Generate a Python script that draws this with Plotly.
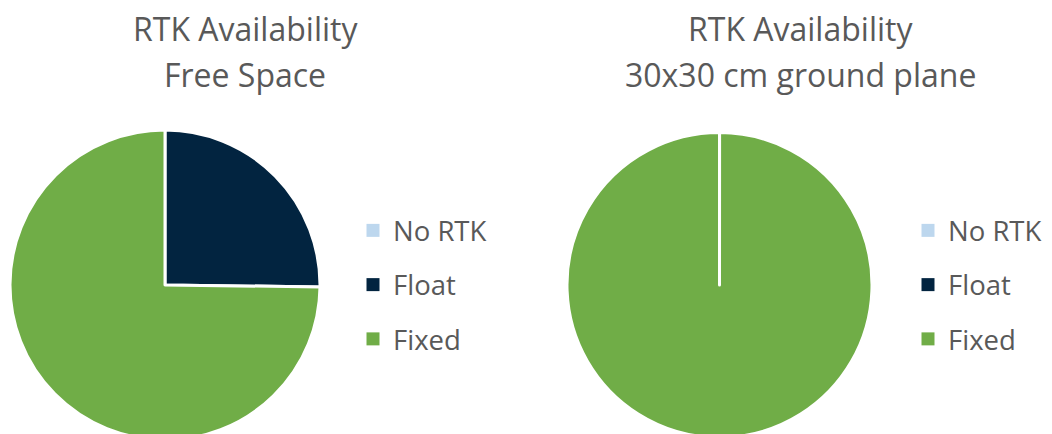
import plotly.graph_objects as go

# Slice categories and colours (shared by both pies)
labels = ["No RTK", "Float", "Fixed"]
colors = ["#BDD7EE", "#022440", "#70AD47"]

# Share of time in each RTK state (%)
free_space = [0.0, 25.2, 74.8]
ground_plane = [0.0, 0.01, 99.99]

title_left = ["RTK Availability", "Free Space"]
title_right = ["RTK Availability", "30x30 cm ground plane"]

W, H = 1052, 446
FONT = "Open Sans"
TEXT = "#595959"


def px_x(x):
    return x / W


def px_y(y):
    return 1 - y / H


fig = go.Figure()

pie_common = dict(
    labels=labels,
    marker=dict(colors=colors, line=dict(color="white", width=3)),
    sort=False,
    direction="clockwise",
    rotation=0,
    textinfo="none",
    hoverinfo="label+percent",
    showlegend=False,
)

fig.add_trace(go.Pie(
    values=free_space,
    domain=dict(x=[px_x(10), px_x(320)], y=[px_y(440), px_y(130)]),
    **pie_common,
))
fig.add_trace(go.Pie(
    values=ground_plane,
    domain=dict(x=[px_x(567), px_x(872)], y=[px_y(437.5), px_y(132.5)]),
    **pie_common,
))

# Legend entries, one group per category so the rows can be spaced out
for legend_name in ["legend", "legend2"]:
    for lab, col in zip(labels, colors):
        fig.add_trace(go.Scatter(
            x=[None], y=[None], mode="markers", name=lab,
            marker=dict(symbol="square", size=13, color=col),
            legend=legend_name, legendgroup=legend_name + lab,
            showlegend=True, hoverinfo="skip",
        ))

legend_common = dict(
    font=dict(family=FONT, size=27.5, color=TEXT),
    tracegroupgap=15.5,
    traceorder="grouped",
    bgcolor="rgba(0,0,0,0)",
    xanchor="left",
    yanchor="top",
    itemclick=False,
)

annotations = []
for cx, lines in [(245, title_left), (800, title_right)]:
    for i, line in enumerate(lines):
        annotations.append(dict(
            text=line, x=px_x(cx), y=px_y(29 + 45 * i),
            xref="paper", yref="paper", xanchor="center", yanchor="middle",
            showarrow=False, font=dict(family=FONT, size=32, color=TEXT),
        ))

fig.update_layout(
    width=W, height=H,
    margin=dict(l=0, r=0, t=0, b=0),
    paper_bgcolor="white", plot_bgcolor="white",
    xaxis=dict(visible=False), yaxis=dict(visible=False),
    legend=dict(x=px_x(353), y=px_y(206), **legend_common),
    legend2=dict(x=px_x(908), y=px_y(206), **legend_common),
    annotations=annotations,
)

fig.write_html(
    "out.html",
    post_script="document.body.style.overflow='hidden';"
                "document.documentElement.style.overflow='hidden';",
)
